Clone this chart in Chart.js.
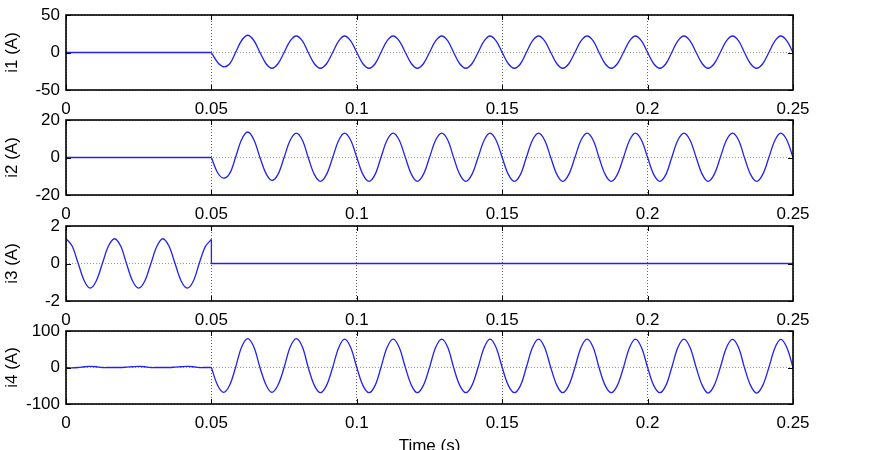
<!DOCTYPE html>
<html>
<head>
<meta charset="utf-8">
<script src="https://cdn.jsdelivr.net/npm/chart.js@4"></script>
<style>
  html, body { margin: 0; padding: 0; background: #fff; overflow: hidden; }
  .box { position: absolute; left: 0; width: 870px; }
</style>
</head>
<body>
<div class="box" style="top:5px;height:113px"><canvas id="c1"></canvas></div>
<div class="box" style="top:110px;height:113px"><canvas id="c2"></canvas></div>
<div class="box" style="top:216px;height:113px"><canvas id="c3"></canvas></div>
<div class="box" style="top:321px;height:137px"><canvas id="c4"></canvas></div>
<script>
// sample times after the switch at 0.05 s (one row per 60 Hz cycle)
var tWave = [
  0.05, 0.0521, 0.0542, 0.0563, 0.0583, 0.0604, 0.0625, 0.0646,
  0.0667, 0.0688, 0.0708, 0.0729, 0.075, 0.0771, 0.0792, 0.0813,
  0.0833, 0.0854, 0.0875, 0.0896, 0.0917, 0.0938, 0.0958, 0.0979,
  0.1, 0.1021, 0.1042, 0.1063, 0.1083, 0.1104, 0.1125, 0.1146,
  0.1167, 0.1188, 0.1208, 0.1229, 0.125, 0.1271, 0.1292, 0.1313,
  0.1333, 0.1354, 0.1375, 0.1396, 0.1417, 0.1438, 0.1458, 0.1479,
  0.15, 0.1521, 0.1542, 0.1563, 0.1583, 0.1604, 0.1625, 0.1646,
  0.1667, 0.1688, 0.1708, 0.1729, 0.175, 0.1771, 0.1792, 0.1813,
  0.1833, 0.1854, 0.1875, 0.1896, 0.1917, 0.1938, 0.1958, 0.1979,
  0.2, 0.2021, 0.2042, 0.2063, 0.2083, 0.2104, 0.2125, 0.2146,
  0.2167, 0.2188, 0.2208, 0.2229, 0.225, 0.2271, 0.2292, 0.2313,
  0.2333, 0.2354, 0.2375, 0.2396, 0.2417, 0.2438, 0.2458, 0.2479,
  0.25
];
// sample times before the switch
var tPre = [
  0, 0.0021, 0.0042, 0.0063, 0.0083, 0.0104, 0.0125, 0.0146,
  0.0167, 0.0188, 0.0208, 0.0229, 0.025, 0.0271, 0.0292, 0.0313,
  0.0333, 0.0354, 0.0375, 0.0396, 0.0417, 0.0438, 0.0458, 0.0479,
  0.05
];
var tEdge = [0, 0.05];
var tOff = [0.05, 0.05, 0.25];

var i1Edge = [0, 0];
var i1Wave = [
  0, -13, -19, -15, 0, 16, 23, 16,
  0, -15, -21, -15, 0, 15.5, 22, 15.5,
  0, -15, -21, -15, 0, 15.5, 22, 15.5,
  0, -15, -21, -15, 0, 15.5, 22, 15.5,
  0, -15, -21, -15, 0, 15.5, 22, 15.5,
  0, -15, -21, -15, 0, 15.5, 22, 15.5,
  0, -15, -21, -15, 0, 15.5, 22, 15.5,
  0, -15, -21, -15, 0, 15.5, 22, 15.5,
  0, -15, -21, -15, 0, 15.5, 22, 15.5,
  0, -15, -21, -15, 0, 15.5, 22, 15.5,
  0, -15, -21, -15, 0, 15.5, 22, 15.5,
  0, -15, -21, -15, 0, 15.5, 22, 15.5,
  0
];

var i2Edge = [0, 0];
var i2Wave = [
  0, -8, -11, -8.5, 0, 9.6, 13.6, 9.5,
  0, -8.6, -12.2, -9, 0, 9.2, 13, 9.2,
  0, -9, -12.7, -9, 0, 9.2, 13, 9.2,
  0, -9, -12.7, -9, 0, 9.2, 13, 9.2,
  0, -9, -12.7, -9, 0, 9.2, 13, 9.2,
  0, -9, -12.7, -9, 0, 9.2, 13, 9.2,
  0, -9, -12.7, -9, 0, 9.2, 13, 9.2,
  0, -9, -12.7, -9, 0, 9.2, 13, 9.2,
  0, -9, -12.7, -9, 0, 9.2, 13, 9.2,
  0, -9, -12.7, -9, 0, 9.2, 13, 9.2,
  0, -9, -12.7, -9, 0, 9.2, 13, 9.2,
  0, -9, -12.7, -9, 0, 9.2, 13, 9.2,
  0
];

var i3Pre = [
  1.33, 0.93, 0, -0.93, -1.31, -0.93, 0, 0.93,
  1.32, 0.93, 0, -0.93, -1.31, -0.93, 0, 0.93,
  1.32, 0.93, 0, -0.93, -1.31, -0.93, 0, 0.9,
  1.28
];
var i3Off = [1.28, 0, 0];

var i4Pre = [
  0, -1, 0, 2, 3, 2, 0, 0,
  0, 0, 1, 2, 3, 2, 0, 0,
  0, 0, 1, 2, 3, 2, 0, 0,
  0
];
var i4Wave = [
  0, -48, -68, -48, 0, 56, 79, 56,
  0, -48, -68, -48, 0, 56, 79, 56,
  0, -49, -69, -49, 0, 55, 78, 55,
  0, -49, -69, -49, 0, 55, 78, 55,
  0, -49, -69, -49, 0, 55, 78, 55,
  0, -49, -69, -49, 0, 55, 78, 55,
  0, -49, -69, -49, 0, 55, 78, 55,
  0, -49, -69, -49, 0, 55, 78, 55,
  0, -49, -69, -49, 0, 55, 78, 55,
  0, -49, -69, -49, 0, 55, 78, 55,
  0, -49, -70, -49, 0, 54, 77, 54,
  0, -49, -70, -49, 0, 54, 77, 54,
  0
];

var xTicks = [0, 0.05, 0.1, 0.15, 0.2, 0.25];
var xTickLabels = ['0', '0.05', '0.1', '0.15', '0.2', '0.25'];
var yTicks1 = [-50, 0, 50];
var yTicks2 = [-20, 0, 20];
var yTicks3 = [-2, 0, 2];
var yTicks4 = [-100, 0, 100];

Chart.defaults.font.family = "'Liberation Sans', Arial, sans-serif";
Chart.defaults.font.size = 17;
Chart.defaults.color = '#000';

function pts(t, v) {
  return t.map(function (x, i) { return {x: x, y: v[i]}; });
}

// black box round the plot with small inward ticks
var frame = {
  id: 'frame',
  afterDraw: function (chart) {
    var ctx = chart.ctx, a = chart.chartArea, sx = chart.scales.x, sy = chart.scales.y;
    ctx.save();
    ctx.strokeStyle = '#000';
    ctx.lineWidth = 1.6;
    ctx.strokeRect(a.left, a.top, a.right - a.left, a.bottom - a.top);
    ctx.lineWidth = 1;
    ctx.beginPath();
    sx.ticks.forEach(function (t) {
      var p = Math.round(sx.getPixelForValue(t.value)) + 0.5;
      ctx.moveTo(p, a.bottom); ctx.lineTo(p, a.bottom - 5);
      ctx.moveTo(p, a.top); ctx.lineTo(p, a.top + 5);
    });
    sy.ticks.forEach(function (t) {
      var p = Math.round(sy.getPixelForValue(t.value)) + 0.5;
      ctx.moveTo(a.left, p); ctx.lineTo(a.left + 5, p);
      ctx.moveTo(a.right, p); ctx.lineTo(a.right - 5, p);
    });
    ctx.stroke();
    ctx.restore();
  }
};

function line(data, tension) {
  return {
    data: data,
    borderColor: '#2222ee',
    borderWidth: 1.3,
    pointRadius: 0,
    fill: false,
    tension: tension
  };
}

function makeChart(id, yTicks, yLabel, datasets, xTitle, xHeight) {
  return new Chart(document.getElementById(id).getContext('2d'), {
    type: 'line',
    data: {datasets: datasets},
    plugins: [frame],
    options: {
      responsive: true,
      maintainAspectRatio: false,
      animation: false,
      events: [],
      layout: {padding: {top: 10, right: 77, left: 0, bottom: 0}},
      plugins: {legend: {display: false}, tooltip: {enabled: false}},
      scales: {
        x: {
          type: 'linear',
          min: 0,
          max: 0.25,
          afterBuildTicks: function (s) { s.ticks = xTicks.map(function (v) { return {value: v}; }); },
          afterFit: function (s) { s.height = xHeight; s.paddingLeft = 0; s.paddingRight = 0; },
          ticks: {
            padding: 9,
            maxRotation: 0,
            callback: function (v) { return xTickLabels[xTicks.indexOf(v)]; }
          },
          grid: {color: '#666', drawTicks: false},
          border: {display: false, dash: [1, 2]},
          title: {display: !!xTitle, text: xTitle || '', padding: {top: 0, bottom: 1}}
        },
        y: {
          min: yTicks[0],
          max: yTicks[yTicks.length - 1],
          afterBuildTicks: function (s) { s.ticks = yTicks.map(function (v) { return {value: v}; }); },
          afterFit: function (s) { s.width = 66; s.paddingTop = 0; s.paddingBottom = 0; },
          ticks: {padding: 6},
          grid: {color: '#999', drawTicks: false},
          border: {display: false, dash: [1, 2]},
          title: {display: true, text: yLabel, padding: {top: 2, bottom: 0}}
        }
      }
    }
  });
}

makeChart('c1', yTicks1, 'i1 (A)', [line(pts(tEdge, i1Edge), 0), line(pts(tWave, i1Wave), 0.35)], null, 28);
makeChart('c2', yTicks2, 'i2 (A)', [line(pts(tEdge, i2Edge), 0), line(pts(tWave, i2Wave), 0.35)], null, 28);
makeChart('c3', yTicks3, 'i3 (A)', [line(pts(tPre, i3Pre), 0.35), line(pts(tOff, i3Off), 0)], null, 28);
makeChart('c4', yTicks4, 'i4 (A)', [line(pts(tPre, i4Pre), 0.3), line(pts(tWave, i4Wave), 0.35)], 'Time (s)', 54);
</script>
</body>
</html>
